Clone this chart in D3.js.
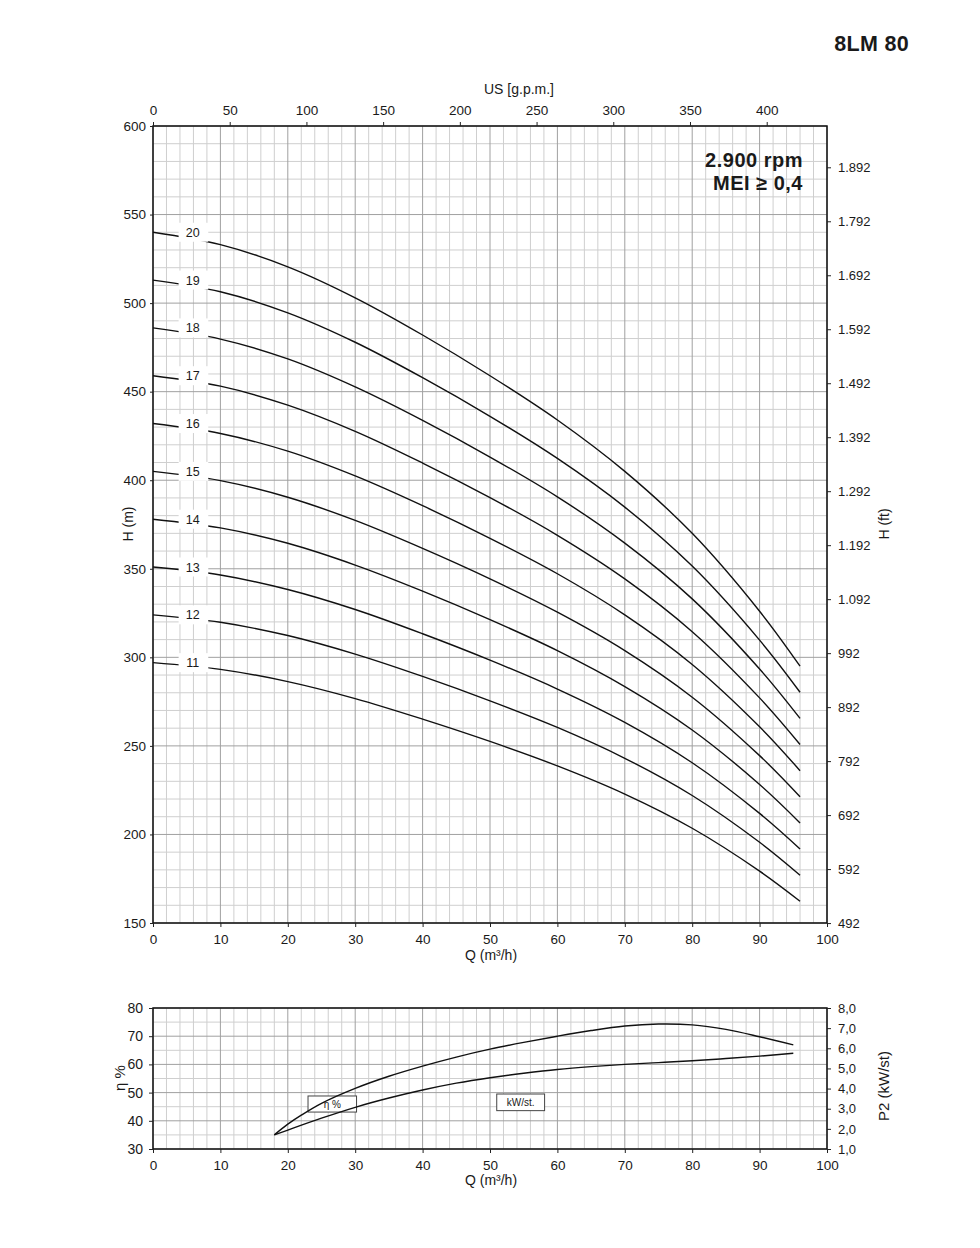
<!DOCTYPE html>
<html><head><meta charset="utf-8">
<script src="https://cdn.jsdelivr.net/npm/d3@7/dist/d3.min.js"></script>
<style>
body{margin:0;background:#fff}
svg{display:block}
text{font-family:"Liberation Sans",Arial,Helvetica,sans-serif;fill:#1a1a1a}
</style>
</head><body>
<svg id="c" width="980" height="1248"></svg>
<script>
// ---------- DATA ----------
const stageLabels = ["20","19","18","17","16","15","14","13","12","11"];
const qHead = [0,10,20,30,40,50,60,70,80,90,96];
const head20 = [540, 533, 520.5, 503, 482, 459, 434, 405, 370, 326, 295];
const head19 = [513, 506.4, 494.5, 477.9, 457.9, 436.1, 412.3, 384.8, 351.5, 309.7, 280.3];
const head18 = [486, 479.7, 468.5, 452.7, 433.8, 413.1, 390.6, 364.5, 333, 293.4, 265.5];
const head17 = [459, 453.1, 442.4, 427.6, 409.7, 390.2, 368.9, 344.3, 314.5, 277.1, 250.8];
const head16 = [432, 426.4, 416.4, 402.4, 385.6, 367.2, 347.2, 324, 296, 260.8, 236];
const head15 = [405, 399.8, 390.4, 377.3, 361.5, 344.3, 325.5, 303.8, 277.5, 244.5, 221.3];
const head14 = [378, 373.1, 364.4, 352.1, 337.4, 321.3, 303.8, 283.5, 259, 228.2, 206.5];
const head13 = [351, 346.5, 338.3, 327, 313.3, 298.4, 282.1, 263.3, 240.5, 211.9, 191.8];
const head12 = [324, 319.8, 312.3, 301.8, 289.2, 275.4, 260.4, 243, 222, 195.6, 177];
const head11 = [297, 293.2, 286.3, 276.7, 265.1, 252.5, 238.7, 222.8, 203.5, 179.3, 162.3];

const qEff = [18,20,22,25,30,35,40,45,50,55,60,65,70,75,80,85,90,95];
const effPct = [35,38.8,42,46.2,51.5,55.8,59.4,62.6,65.4,67.8,70,72,73.6,74.3,74,72.4,69.8,66.9];
const qPow = [18,20,25,30,35,40,45,50,55,60,65,70,75,80,85,90,95];
const powKw = [1.7,1.94,2.53,3.07,3.53,3.93,4.27,4.54,4.76,4.95,5.09,5.2,5.29,5.38,5.49,5.61,5.75];

const qTicks = [0,10,20,30,40,50,60,70,80,90,100];
const hTicks = [150,200,250,300,350,400,450,500,550,600];
const gpmTicks = [0,50,100,150,200,250,300,350,400];
const ftTicks = [492,592,692,792,892,992,1092,1192,1292,1392,1492,1592,1692,1792,1892];
const effTicks = [30,40,50,60,70,80];
const powTicks = [1,2,3,4,5,6,7,8];

// ---------- SETUP ----------
const svg = d3.select("#c");
const L = 153, R = 827;
const T1 = 126, B1 = 923;
const T2 = 1008, B2 = 1149;
const minorC = "#cfcfcf", majorC = "#a0a0a0";

const locale = d3.formatLocale({decimal:",", thousands:".", grouping:[3], currency:["",""]});
const fmtFt = locale.format(",d");
const fmtP = locale.format(".1f");

const xQ = d3.scaleLinear().domain([0,100]).range([L,R]);
const yH = d3.scaleLinear().domain([150,600]).range([B1,T1]);
const xG = d3.scaleLinear().domain([0,439.3]).range([L,R]);
const yFt = d3.scaleLinear().domain([150*3.28084,600*3.28084]).range([B1,T1]);
const yE = d3.scaleLinear().domain([30,80]).range([B2,T2]);
const yP = d3.scaleLinear().domain([1,8]).range([B2,T2]);

function grid(g, yScale, y0, y1, yMinor, yMajor, yDom){
  const xs = d3.range(0,101,2);
  g.selectAll(".vx").data(xs.filter(d=>d%10!==0)).join("line")
    .attr("x1",d=>xQ(d)).attr("x2",d=>xQ(d)).attr("y1",y0).attr("y2",y1)
    .attr("stroke",minorC).attr("stroke-width",1);
  const ys = d3.range(yDom[0],yDom[1]+0.001,yMinor);
  g.selectAll(".hy").data(ys.filter(d=>Math.abs(d%yMajor)>1e-6)).join("line")
    .attr("x1",L).attr("x2",R).attr("y1",d=>yScale(d)).attr("y2",d=>yScale(d))
    .attr("stroke",minorC).attr("stroke-width",1);
  g.selectAll(".vX").data(xs.filter(d=>d%10===0)).join("line")
    .attr("x1",d=>xQ(d)).attr("x2",d=>xQ(d)).attr("y1",y0).attr("y2",y1)
    .attr("stroke",majorC).attr("stroke-width",1);
  g.selectAll(".hY").data(ys.filter(d=>Math.abs(d%yMajor)<1e-6)).join("line")
    .attr("x1",L).attr("x2",R).attr("y1",d=>yScale(d)).attr("y2",d=>yScale(d))
    .attr("stroke",majorC).attr("stroke-width",1);
}

function styleAxis(g, size){
  g.select(".domain").remove();
  g.selectAll(".tick line").attr("stroke","#222").attr("stroke-width",1);
  g.selectAll(".tick text").attr("font-size",size).attr("fill","#1a1a1a")
    .attr("font-family",'"Liberation Sans",Arial,sans-serif');
}

// ---------- TOP CHART ----------
const gTop = svg.append("g");
grid(gTop.append("g"), yH, T1, B1, 10, 50, [150,600]);

const line = d3.line().x(d=>xQ(d[0])).y(d=>yH(d[1])).curve(d3.curveCatmullRom.alpha(0.5));
const heads = [head20,head19,head18,head17,head16,head15,head14,head13,head12,head11];
heads.forEach(h=>{
  gTop.append("path").attr("d", line(qHead.map((q,i)=>[q,h[i]])))
    .attr("fill","none").attr("stroke","#111").attr("stroke-width",1.4);
});
heads.forEach((h,i)=>{
  const cy = yH(h[0]);
  gTop.append("rect").attr("x",xQ(3.8)).attr("y",cy-9.5)
    .attr("width",xQ(8.2)-xQ(3.8)).attr("height",19).attr("fill","#fff");
  gTop.append("text").attr("x",xQ(5.9)).attr("y",cy).attr("dy","0.36em")
    .attr("text-anchor","middle").attr("font-size",12.5).text(stageLabels[i]);
});

gTop.append("rect").attr("x",L).attr("y",T1).attr("width",R-L).attr("height",B1-T1)
  .attr("fill","none").attr("stroke","#111").attr("stroke-width",1.5);

styleAxis(gTop.append("g").attr("transform",`translate(${L},0)`)
  .call(d3.axisLeft(yH).tickValues(hTicks).tickSize(3).tickPadding(4)), 13.5);
styleAxis(gTop.append("g").attr("transform",`translate(0,${B1})`)
  .call(d3.axisBottom(xQ).tickValues(qTicks).tickSize(4).tickPadding(7)), 13.5);
styleAxis(gTop.append("g").attr("transform",`translate(0,${T1})`)
  .call(d3.axisTop(xG).tickValues(gpmTicks).tickSize(4).tickPadding(7)), 13.5);
styleAxis(gTop.append("g").attr("transform",`translate(${R},0)`)
  .call(d3.axisRight(yFt).tickValues(ftTicks).tickSize(4).tickPadding(7).tickFormat(fmtFt)), 13);

gTop.append("text").attr("x",519).attr("y",94).attr("text-anchor","middle")
  .attr("font-size",14).text("US [g.p.m.]");
gTop.append("text").attr("x",491).attr("y",960).attr("text-anchor","middle")
  .attr("font-size",14).text("Q (m³/h)");
gTop.append("text").attr("transform","translate(133,524) rotate(-90)").attr("text-anchor","middle")
  .attr("font-size",14).text("H (m)");
gTop.append("text").attr("transform","translate(889,524) rotate(-90)").attr("text-anchor","middle")
  .attr("font-size",14).text("H (ft)");

svg.append("text").attr("x",909).attr("y",51).attr("text-anchor","end")
  .attr("font-size",21.5).attr("font-weight","bold").attr("letter-spacing",0.3).text("8LM 80");
svg.append("text").attr("x",803).attr("y",167).attr("text-anchor","end")
  .attr("font-size",20).attr("font-weight","bold").attr("letter-spacing",0.5).text("2.900 rpm");
svg.append("text").attr("x",803).attr("y",190).attr("text-anchor","end")
  .attr("font-size",20).attr("font-weight","bold").attr("letter-spacing",0.5).text("MEI ≥ 0,4");

// ---------- BOTTOM CHART ----------
const gBot = svg.append("g");
grid(gBot.append("g"), yE, T2, B2, 5, 10, [30,80]);

function box(x0,x1,y0,y1,label){
  gBot.append("rect").attr("x",x0).attr("y",y0).attr("width",x1-x0).attr("height",y1-y0)
    .attr("fill","#fff").attr("stroke","#444").attr("stroke-width",1);
  gBot.append("text").attr("x",(x0+x1)/2).attr("y",(y0+y1)/2).attr("dy","0.35em")
    .attr("text-anchor","middle").attr("font-size",10).text(label);
}
box(xQ(23.0), xQ(30.2), yE(48.8), yE(43.1), "η %");
box(xQ(51.0), xQ(58.1), yE(49.5), yE(43.6), "kW/st.");

const lineE = d3.line().x(d=>xQ(d[0])).y(d=>yE(d[1])).curve(d3.curveCatmullRom.alpha(0.5));
const lineP = d3.line().x(d=>xQ(d[0])).y(d=>yP(d[1])).curve(d3.curveCatmullRom.alpha(0.5));
gBot.append("path").attr("d", lineE(qEff.map((q,i)=>[q,effPct[i]])))
  .attr("fill","none").attr("stroke","#111").attr("stroke-width",1.4);
gBot.append("path").attr("d", lineP(qPow.map((q,i)=>[q,powKw[i]])))
  .attr("fill","none").attr("stroke","#111").attr("stroke-width",1.4);

gBot.append("rect").attr("x",L).attr("y",T2).attr("width",R-L).attr("height",B2-T2)
  .attr("fill","none").attr("stroke","#111").attr("stroke-width",1.5);

styleAxis(gBot.append("g").attr("transform",`translate(${L},0)`)
  .call(d3.axisLeft(yE).tickValues(effTicks).tickSize(4).tickPadding(6)), 14);
styleAxis(gBot.append("g").attr("transform",`translate(0,${B2})`)
  .call(d3.axisBottom(xQ).tickValues(qTicks).tickSize(4).tickPadding(7)), 13.5);
styleAxis(gBot.append("g").attr("transform",`translate(${R},0)`)
  .call(d3.axisRight(yP).tickValues(powTicks).tickSize(4).tickPadding(7).tickFormat(fmtP)), 13);

gBot.append("text").attr("x",491).attr("y",1185).attr("text-anchor","middle")
  .attr("font-size",14).text("Q (m³/h)");
gBot.append("text").attr("transform","translate(125,1078) rotate(-90)").attr("text-anchor","middle")
  .attr("font-size",15).text("η %");
gBot.append("text").attr("transform","translate(889,1086) rotate(-90)").attr("text-anchor","middle")
  .attr("font-size",15).text("P2 (kW/st)");
</script>
</body></html>
